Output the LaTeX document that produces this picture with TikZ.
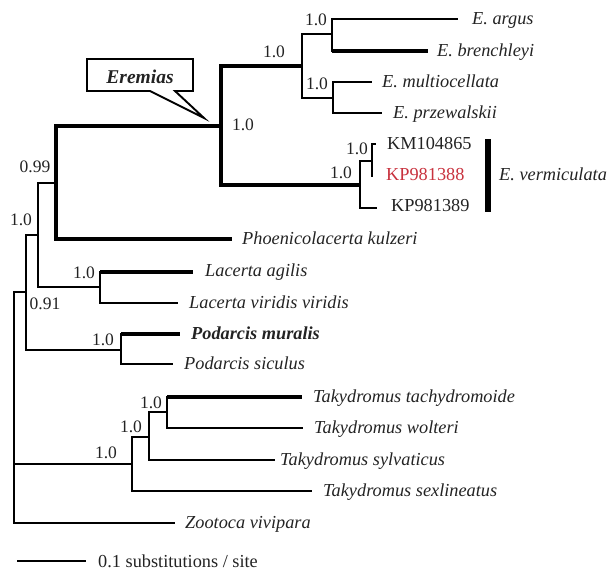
\documentclass[tikz,border=0pt]{standalone}
\usepackage{fontspec}
\setmainfont{Liberation Serif}
\definecolor{txt}{RGB}{35,35,35}
\definecolor{kpred}{RGB}{200,50,62}
\begin{document}
\begin{tikzpicture}[x=1pt,y=-1pt,
  br/.style={line width=2.3pt, black},
  tb/.style={line width=3.3pt, black},
  lab/.style={anchor=base west, inner sep=0pt, font=\fontsize{18.3}{20}\selectfont\itshape, text=txt},
  acc/.style={anchor=base west, inner sep=0pt, font=\fontsize{18.3}{20}\selectfont, text=txt},
  sup/.style={inner sep=0pt, font=\fontsize{17.5}{20}\selectfont, text=txt}]
\useasboundingbox (0,0) rectangle (609,571);

% internal nodes
\coordinate (root) at (14,407);
\coordinate (nA) at (26,292);
\coordinate (nB) at (38,235);
\coordinate (nC) at (56,183);
\coordinate (nD) at (221,126);
\coordinate (nE) at (302,66);
\coordinate (nG) at (332,34);
\coordinate (nH) at (333,98);
\coordinate (nF) at (360,185);
\coordinate (nI) at (372,161);
\coordinate (nL) at (100,287);
\coordinate (nP) at (121,350);
\coordinate (nT) at (132,464);
\coordinate (nJ) at (149,437);
\coordinate (nK) at (167,412);

% leaf ends
\coordinate (eArgus) at (458,19);
\coordinate (eBrench) at (428,51);
\coordinate (eMulti) at (372,82);
\coordinate (ePrzew) at (382,113);
\coordinate (eKM) at (376,144);
\coordinate (eKP88) at (372,177);
\coordinate (eKP89) at (377,208);
\coordinate (ePhoe) at (232,239);
\coordinate (eAgil) at (193,272);
\coordinate (eVir) at (178,303);
\coordinate (eMur) at (180,334);
\coordinate (eSic) at (173,364);
\coordinate (eTach) at (302,397);
\coordinate (eWolt) at (303,428);
\coordinate (eSylv) at (275,460);
\coordinate (eSex) at (312,491);
\coordinate (eZoo) at (175,523);

% branches
\draw[br] (root) |- (nA);
\draw[br] (root) |- (nT);
\draw[br] (root) |- (eZoo);
\draw[br] (nA) |- (nB);
\draw[br] (nA) |- (nP);
\draw[br] (nB) |- (nC);
\draw[br] (nB) |- (nL);
\draw[tb] (nC) |- (nD);
\draw[tb] (nC) |- (ePhoe);
\draw[tb] (nD) |- (nE);
\draw[tb] (nD) |- (nF);
\draw[br] (nE) |- (nG);
\draw[br] (nE) |- (nH);
\draw[br] (nG) |- (eArgus);
\draw[br] (nG) |- (eBrench);
\draw[tb] (nG |- eBrench) -- (eBrench);
\draw[br] (nH) |- (eMulti);
\draw[br] (nH) |- (ePrzew);
\draw[br] (nF) |- (nI);
\draw[br] (nF) |- (eKP89);
\draw[br] (nI) |- (eKM);
\draw[br] (nI) |- (eKP88);
\draw[br] (nL) |- (eAgil);
\draw[tb] (nL |- eAgil) -- (eAgil);
\draw[br] (nL) |- (eVir);
\draw[br] (nP) |- (eMur);
\draw[tb] (nP |- eMur) -- (eMur);
\draw[br] (nP) |- (eSic);
\draw[br] (nT) |- (nJ);
\draw[br] (nT) |- (eSex);
\draw[br] (nJ) |- (nK);
\draw[br] (nJ) |- (eSylv);
\draw[br] (nK) |- (eTach);
\draw[tb] (nK |- eTach) -- (eTach);
\draw[br] (nK) |- (eWolt);

% leaf labels
\node[lab] (tArgus) at (472,24.5) {E. argus};
\node[lab] (tBrench) at (437,56.5) {E. brenchleyi};
\node[lab] (tMulti) at (382,87.5) {E. multiocellata};
\node[lab] (tPrzew) at (393,118.5) {E. przewalskii};
\node[acc] (tKM) at (387,149) {KM104865};
\node[acc, text=kpred] (tKP88) at (386,180) {KP981388};
\node[acc] (tKP89) at (391,211.5) {KP981389};
\node[lab] (tVerm) at (499,180) {E. vermiculata};
\node[lab] (tPhoe) at (242,244.5) {Phoenicolacerta kulzeri};
\node[lab] (tAgil) at (205,276.5) {Lacerta agilis};
\node[lab] (tVir) at (189,308) {Lacerta viridis viridis};
\node[lab, font=\fontsize{18.3}{20}\selectfont\bfseries\itshape] (tMur) at (191,339) {Podarcis muralis};
\node[lab] (tSic) at (184,369) {Podarcis siculus};
\node[lab] (tTach) at (313,402) {Takydromus tachydromoide};
\node[lab] (tWolt) at (314,433.5) {Takydromus wolteri};
\node[lab] (tSylv) at (280,465.5) {Takydromus sylvaticus};
\node[lab] (tSex) at (323,496) {Takydromus sexlineatus};
\node[lab] (tZoo) at (185,528.5) {Zootoca vivipara};

% vermiculata bar
\coordinate (vb1) at (487.5,139);
\coordinate (vb2) at (487.5,212);
\draw[line width=6pt] (vb1) -- (vb2);

% support values
\node[sup] (s1) at (35,167) {0.99};
\node[sup] (s2) at (21,220) {1.0};
\node[sup] (s3) at (45,304) {0.91};
\node[sup] (s4) at (84,273) {1.0};
\node[sup] (s5) at (103,340) {1.0};
\node[sup] (s6) at (243,125) {1.0};
\node[sup] (s7) at (274,52) {1.0};
\node[sup] (s8) at (316,20) {1.0};
\node[sup] (s9) at (317,84) {1.0};
\node[sup] (s10) at (357,149) {1.0};
\node[sup] (s11) at (341,173) {1.0};
\node[sup] (s12) at (151,403) {1.0};
\node[sup] (s13) at (131,427) {1.0};
\node[sup] (s14) at (106,453) {1.0};

% Eremias callout
\draw[line width=1.9pt, fill=white, line join=miter]
  (87,59) -- (193,59) -- (193,91) -- (175,91) -- (204,118) -- (150,91) -- (87,91) -- cycle;
\node[inner sep=0pt, font=\fontsize{19.5}{22}\selectfont\bfseries\itshape, text=txt] (erem) at (140,76.5) {Eremias};

% scale bar
\coordinate (sb1) at (17,561);
\coordinate (sb2) at (86,561);
\draw[br] (sb1) -- (sb2);
\node[acc] (sbl) at (98,567) {0.1 substitutions / site};
\end{tikzpicture}
\end{document}
